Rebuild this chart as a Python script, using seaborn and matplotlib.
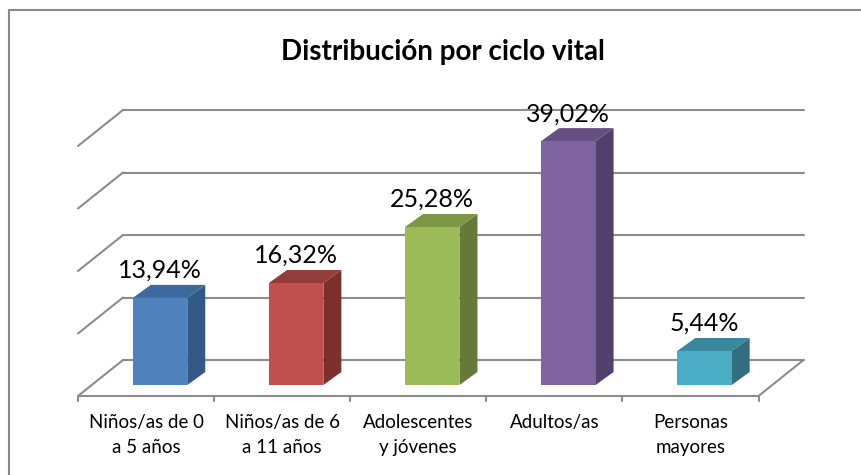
import matplotlib.pyplot as plt
import matplotlib.transforms as mtransforms
from matplotlib.lines import Line2D
from matplotlib.patches import Polygon
import pandas as pd
import seaborn as sns

categories = [
    "Niños/as de 0\na 5 años",
    "Niños/as de 6\na 11 años",
    "Adolescentes\ny jóvenes",
    "Adultos/as",
    "Personas\nmayores",
]
values = [13.94, 16.32, 25.28, 39.02, 5.44]
front_colors = ["#4F81BD", "#C0504D", "#9BBB59", "#8064A2", "#4BACC6"]
top_colors = ["#3D6A9E", "#933C3A", "#7C9744", "#664F85", "#3A889D"]
side_colors = ["#335A87", "#7C2F2D", "#66793A", "#523F6C", "#306E80"]
grid_values = [0, 10, 20, 30, 40]
title = "Distribución por ciclo vital"

W, H = 861, 475
GRID_COLOR = "#8C8C8C"
# pixel offsets of the 3D planes relative to the bar front plane
BACK = (31, 25)
FRONT = (-14, -11)
DEPTH = (18, 13)

sns.set_style("white")
plt.rcParams["font.family"] = ["Lato", "DejaVu Sans"]

fig = plt.figure(figsize=(W / 100, H / 100), dpi=100)
ax = fig.add_axes([92 / W, (H - 385) / H, 680.5 / W, 250 / H])

df = pd.DataFrame({"cat": categories, "val": values})
sns.barplot(data=df, x="cat", y="val", hue="cat", palette=front_colors,
            width=0.4, saturation=1, legend=False, ax=ax, zorder=3)
ax.set_xlim(-0.5, 4.5)
ax.set_ylim(0, 40)
ax.axis("off")


def shifted(off):
    return ax.transData + mtransforms.ScaledTranslation(
        off[0] / 100, off[1] / 100, fig.dpi_scale_trans)


def pixel_line(p, q):
    ax.add_line(Line2D([p[0], q[0]], [p[1], q[1]], color=GRID_COLOR, lw=1.5,
                       transform=None, clip_on=False, zorder=1))


back_tr = shifted(BACK)
front_tr = shifted(FRONT)
n = len(categories)
x0, x1 = -0.5, n - 0.5

# back wall and left wall gridlines
for v in grid_values:
    ax.plot([x0, x1], [v, v], color=GRID_COLOR, lw=1.5, transform=back_tr,
            clip_on=False, zorder=1)
    pixel_line(back_tr.transform((x0, v)), front_tr.transform((x0, v)))

# floor edges and category ticks
ax.plot([x0, x1], [0, 0], color=GRID_COLOR, lw=1.5, transform=front_tr,
        clip_on=False, zorder=1)
pixel_line(back_tr.transform((x1, 0)), front_tr.transform((x1, 0)))
for i in range(n + 1):
    p = front_tr.transform((x0 + i, 0))
    pixel_line(p, (p[0], p[1] - 5))

# 3D faces of the bars
px_x = ax.transData.transform((1, 0))[0] - ax.transData.transform((0, 0))[0]
px_y = ax.transData.transform((0, 1))[1] - ax.transData.transform((0, 0))[1]
ddx, ddy = DEPTH[0] / px_x, DEPTH[1] / px_y
for i, bar in enumerate(list(ax.patches)):
    bx, bw, bh = bar.get_x(), bar.get_width(), bar.get_height()
    bar.set_edgecolor("none")
    side = [(bx + bw, 0), (bx + bw, bh), (bx + bw + ddx, bh + ddy),
            (bx + bw + ddx, ddy)]
    top = [(bx, bh), (bx + bw, bh), (bx + bw + ddx, bh + ddy),
           (bx + ddx, bh + ddy)]
    ax.add_patch(Polygon(side, closed=True, facecolor=side_colors[i],
                         edgecolor="none", zorder=2, clip_on=False))
    ax.add_patch(Polygon(top, closed=True, facecolor=top_colors[i],
                         edgecolor="none", zorder=2, clip_on=False))
    label = f"{values[i]:.2f}%".replace(".", ",")
    ax.annotate(label, (bx + bw / 2, bh), xytext=(0, 20),
                textcoords="offset pixels", ha="center", va="baseline",
                fontsize=18, color="#000000", annotation_clip=False)

# category labels under the floor front edge
for i, cat in enumerate(categories):
    ax.annotate(cat, (i, 0), xytext=(FRONT[0], -29),
                textcoords="offset pixels", ha="center", va="top",
                fontsize=13.5, linespacing=1.6, color="#000000",
                annotation_clip=False)

fig.text(443 / W, 1 - 52 / H, title, ha="center", va="center",
         fontsize=20, fontweight="bold", color="#000000")

# chart border (cut by the image edges on the right and bottom)
fig.add_artist(Line2D([9 / W, 1], [1 - 10 / H, 1 - 10 / H], color="#898989",
                      lw=1.5, transform=fig.transFigure))
fig.add_artist(Line2D([9 / W, 9 / W], [1 - 10 / H, 0], color="#898989",
                      lw=1.5, transform=fig.transFigure))

fig.savefig("out.png", dpi=100)
